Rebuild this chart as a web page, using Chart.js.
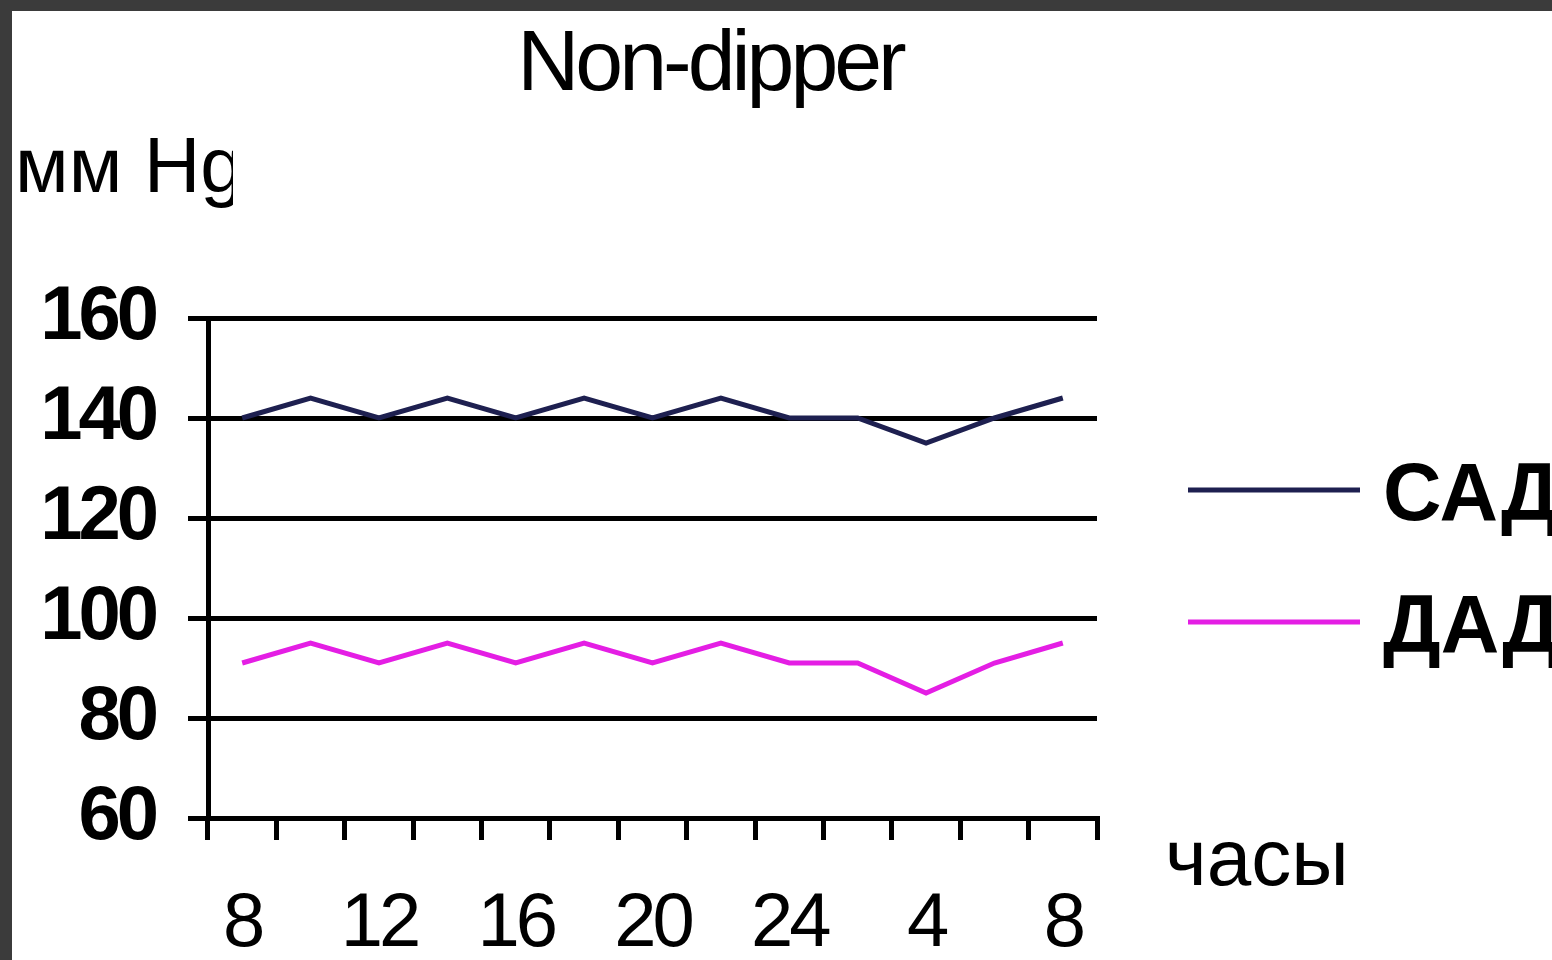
<!DOCTYPE html>
<html>
<head>
<meta charset="utf-8">
<title>Non-dipper</title>
<script src="https://cdn.jsdelivr.net/npm/chart.js@4"></script>
<style>
    body {
        margin: 0;
        background: #3b3b3b;
        width: 1552px;
        height: 960px;
        overflow: hidden;
    }
    #box {
        position: absolute;
        left: 12px;
        top: 11px;
        width: 1540px;
        height: 949px;
        background: #fff;
    }
</style>
</head>
<body>
<div id="box"><canvas id="bpChart"></canvas></div>
<script>
// Часы суток (ось X)
const hours = ["8", "10", "12", "14", "16", "18", "20", "22", "24", "2", "4", "6", "8"];
// Систолическое давление
const sad = [140, 144, 140, 144, 140, 144, 140, 144, 140, 140, 135, 140, 144];
// Диастолическое давление
const dad = [91, 95, 91, 95, 91, 95, 91, 95, 91, 91, 85, 91, 95];
// Деления оси Y
const yTicks = [60, 80, 100, 120, 140, 160];

const FONT = "'Liberation Sans', Arial, sans-serif";

// Подписи: заголовок, единицы, легенда
const labelsPlugin = {
    id: "labels",
    beforeLayout(chart) {
        chart.ctx.letterSpacing = "-4px";
    },
    beforeDraw(chart) {
        chart.ctx.letterSpacing = "-4px";
    },
    afterDraw(chart) {
        const ctx = chart.ctx;
        ctx.save();
        ctx.fillStyle = "#000";
        ctx.textBaseline = "alphabetic";

        // Заголовок
        ctx.letterSpacing = "-4px";
        ctx.font = "86px " + FONT;
        ctx.textAlign = "center";
        ctx.fillText("Non-dipper", 698, 79);

        // Единицы по оси Y (обрезаны как в оригинале)
        ctx.letterSpacing = "0px";
        ctx.textAlign = "left";
        ctx.save();
        ctx.beginPath();
        ctx.rect(0, 100, 221, 120);
        ctx.clip();
        ctx.font = "78px " + FONT;
        ctx.fillText("мм Hg", 3, 181);
        ctx.restore();

        // Подпись оси X
        ctx.font = "80px " + FONT;
        ctx.fillText("часы", 1153, 874);

        // Легенда
        ctx.font = "bold 81px " + FONT;
        chart.data.datasets.forEach((ds, i) => {
            const y = 479 + i * 132;
            ctx.strokeStyle = ds.borderColor;
            ctx.lineWidth = 5;
            ctx.beginPath();
            ctx.moveTo(1176, y);
            ctx.lineTo(1348, y);
            ctx.stroke();
            ctx.fillText(ds.label, 1371, y + 30);
        });
        ctx.restore();
    }
};

const ctx = document.getElementById("bpChart").getContext("2d");
new Chart(ctx, {
    type: "line",
    data: {
        labels: hours,
        datasets: [
            {
                label: "САД",
                data: sad,
                borderColor: "#1e2050",
                borderWidth: 5,
                pointRadius: 0,
                tension: 0
            },
            {
                label: "ДАД",
                data: dad,
                borderColor: "#e41ee4",
                borderWidth: 5,
                pointRadius: 0,
                tension: 0
            }
        ]
    },
    options: {
        responsive: true,
        maintainAspectRatio: false,
        animation: false,
        devicePixelRatio: 1,
        layout: {
            padding: { left: 0, top: 307, right: 455, bottom: 0 }
        },
        plugins: {
            legend: { display: false },
            title: { display: false },
            tooltip: { enabled: false }
        },
        scales: {
            x: {
                offset: true,
                grid: {
                    display: true,
                    offset: true,
                    drawOnChartArea: false,
                    color: "#000",
                    lineWidth: 5,
                    tickLength: 22
                },
                border: { display: true, color: "#000", width: 5 },
                ticks: {
                    autoSkip: false,
                    maxRotation: 0,
                    padding: 39,
                    color: "#000",
                    font: { family: FONT, size: 76 },
                    callback: function (value, index) {
                        return index % 2 === 0 ? this.getLabelForValue(value) : "";
                    }
                },
                afterFit(scale) {
                    scale.height = 142;
                }
            },
            y: {
                min: yTicks[0],
                max: yTicks[yTicks.length - 1],
                afterBuildTicks(scale) {
                    scale.ticks = yTicks.map(v => ({ value: v }));
                },
                grid: {
                    color: "#000",
                    lineWidth: 5,
                    tickLength: 20
                },
                border: { display: true, color: "#000", width: 5 },
                ticks: {
                    padding: 33,
                    color: "#000",
                    font: { family: FONT, size: 76, weight: "bold" }
                },
                afterFit(scale) {
                    scale.width = 196;
                }
            }
        }
    },
    plugins: [labelsPlugin]
});
</script>
</body>
</html>
